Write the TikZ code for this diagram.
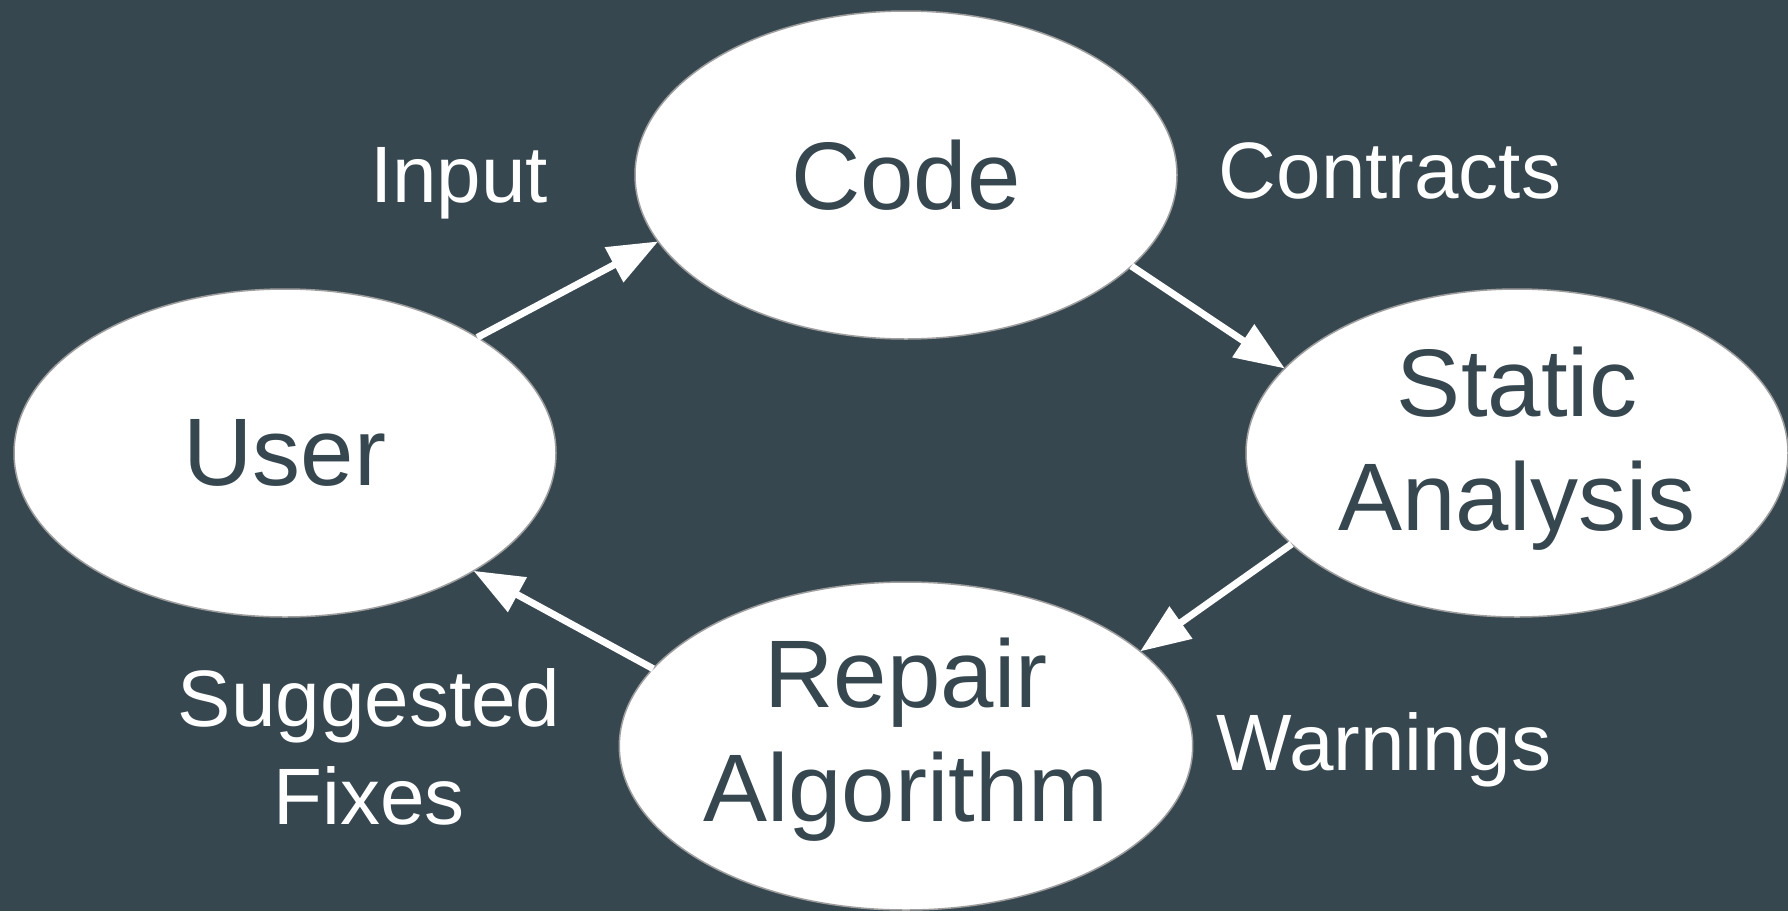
\documentclass[tikz,border=0pt]{standalone}
\usepackage{fontspec}
\setmainfont{Liberation Sans}
\usetikzlibrary{shapes.geometric,arrows.meta}
\definecolor{bgcol}{HTML}{37474F}
\definecolor{rimcol}{HTML}{9E9E9E}
\tikzset{
  bubble/.style={ellipse, draw=rimcol, line width=1.5pt, fill=white,
    minimum width=542pt, minimum height=328pt, inner sep=0pt, outer sep=0pt,
    text=bgcol, align=center, font=\fontsize{96}{114}\selectfont},
  lbl/.style={text=white, align=center, inner sep=0pt, font=\fontsize{80}{98}\selectfont},
  flow/.style={white, line width=7pt, -{Triangle[length=50pt,width=38pt]}}
}
\begin{document}
\begin{tikzpicture}[x=1pt,y=-1pt]
\useasboundingbox (0,0) rectangle (1788,911);
\fill[bgcol] (0,0) rectangle (1788,911);
\node[bubble] (code) at (906,175) {Code};
\node[bubble] (user) at (285,453) {User};
\node[bubble, text depth=29pt] (static) at (1517,453) {Static\\Analysis};
\node[bubble, text depth=32pt] (repair) at (906,746) {Repair\\Algorithm};
\node[lbl, anchor=base] (input) at (459,202) {Input};
\node[lbl, anchor=base] (contracts) at (1390,198) {Contracts};
\node[lbl, anchor=base] (warnings) at (1384,770) {Warnings};
\node[lbl] (fixes) at (369,747) {Suggested\\Fixes};
\draw[flow] (user.31) -- (code.195);
\draw[flow] (code.-22) -- (static.160);
\draw[flow] (static.202) -- (repair.22);
\draw[flow] (repair.163) -- (user.-32);
\end{tikzpicture}
\end{document}
